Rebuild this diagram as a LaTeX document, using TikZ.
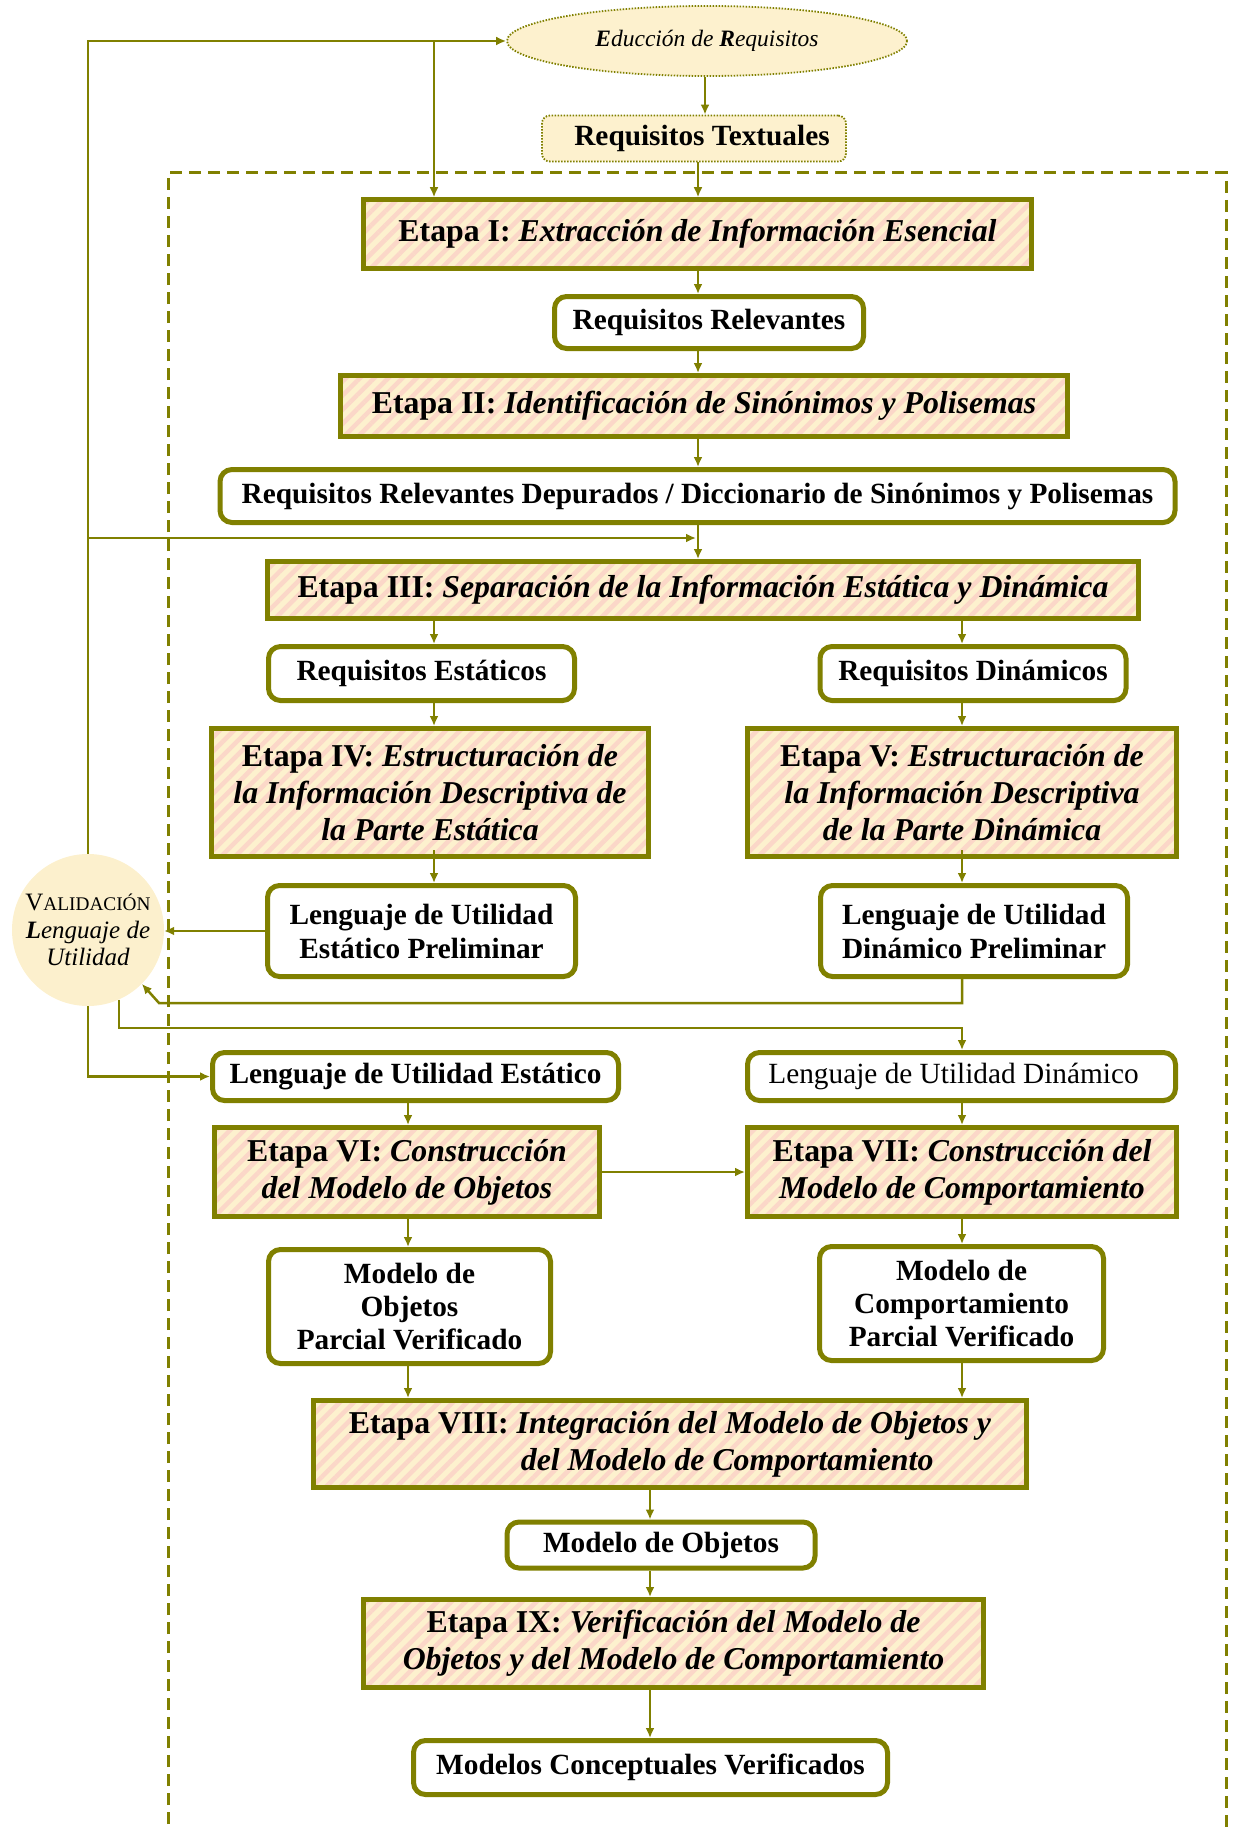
\documentclass[tikz,border=0pt]{standalone}
\usepackage{fontspec}
\setmainfont{Liberation Serif}
\usetikzlibrary{arrows.meta,patterns.meta,shapes.geometric,calc}

\definecolor{ol}{HTML}{808000}
\definecolor{crema}{HTML}{FDF1CE}
\definecolor{raya}{HTML}{FBD7C8}
\definecolor{circ}{HTML}{FCF0CD}

\newcommand\etfont{\fontsize{31.8}{37}\selectfont\bfseries}
\newcommand\bxfont{\fontsize{29.3}{34}\selectfont\bfseries}

\tikzset{
  etapa/.style={draw=ol, line width=5pt, preaction={fill=crema},
    pattern={Lines[angle=45,distance=10pt,line width=4.5pt]}, pattern color=raya,
    align=center, inner sep=0pt, font=\etfont},
  rbox/.style={draw=ol, line width=5pt, rounded corners=12pt, fill=white,
    align=center, inner sep=0pt, font=\bxfont},
  dotbox/.style={draw=ol, line width=1.8pt, dash pattern=on 1.5pt off 1.5pt,
    rounded corners=8pt, fill=crema, align=center, inner sep=0pt, font=\bxfont},
  arr/.style={draw=ol, line width=2.5pt, -{Latex[length=10pt,width=9pt]}},
}

\begin{document}
\begin{tikzpicture}[x=1pt,y=-1pt]
\useasboundingbox (0,0) rectangle (1232,1827);

% dashed frame of the process
\draw[ol, line width=3pt, dash pattern=on 12pt off 7pt]
  (168,1900) -- (168,173) -- (1226,173) -- (1226,1900);

% columns used by the connectors
\coordinate (m) at (698,0);
\coordinate (cL) at (434,0);
\coordinate (cR) at (962,0);
\coordinate (cL2) at (408,0);
\coordinate (cB) at (650,0);

% nodes
\node[ellipse, draw=ol, line width=1.8pt, dash pattern=on 1.5pt off 1.5pt, fill=crema,
  minimum width=400, minimum height=70, inner sep=0pt,
  font=\fontsize{23.5}{28}\selectfont\itshape] (educ) at (707,41)
  {\textbf{E}ducción de \textbf{R}equisitos};
\node[dotbox, minimum width=304, minimum height=46] (rt) at (694,138.5)
  {\hspace*{16pt}Requisitos Textuales};

\node[etapa, minimum width=668, minimum height=69] (e1) at (697.5,234)
  {Etapa I: \textit{Extracción de Información Esencial}};
\node[rbox, minimum width=309, minimum height=52] (rr) at (709,322.5) {Requisitos Relevantes};
\node[etapa, minimum width=727, minimum height=61] (e2) at (704,406)
  {Etapa II: \textit{Identificación de Sinónimos y Polisemas}};
\node[rbox, minimum width=955, minimum height=53] (dep) at (697.5,496)
  {Requisitos Relevantes Depurados / Diccionario de Sinónimos y Polisemas};
\node[etapa, minimum width=871, minimum height=57] (e3) at (703,590)
  {Etapa III: \textit{Separación de la Información Estática y Dinámica}};

\node[rbox, minimum width=306, minimum height=54] (rs) at (421.5,673.5) {Requisitos Estáticos};
\node[rbox, minimum width=306, minimum height=54] (rd) at (973,673.5) {Requisitos Dinámicos};

\node[etapa, minimum width=437, minimum height=128] (e4) at (430,792.5)
  {Etapa IV: \textit{Estructuración de}\\ \textit{la Información Descriptiva de}\\ \textit{la Parte Estática}};
\node[etapa, minimum width=429, minimum height=128] (e5) at (962,792.5)
  {Etapa V: \textit{Estructuración de}\\ \textit{la Información Descriptiva}\\ \textit{de la Parte Dinámica}};

\node[rbox, minimum width=308, minimum height=91] (lsp) at (421.5,931)
  {Lenguaje de Utilidad\\ Estático Preliminar};
\node[rbox, minimum width=307, minimum height=91] (ldp) at (974,931)
  {Lenguaje de Utilidad\\ Dinámico Preliminar};

\node[circle, fill=circ, minimum size=152, inner sep=0pt, align=center,
  font=\fontsize{25}{27.5}\selectfont] (val) at (88,930)
  {V{\fontsize{19.3}{27.5}\selectfont ALIDACIÓN}\\ \textit{\textbf{L}enguaje de}\\ \textit{Utilidad}};

\node[rbox, minimum width=406, minimum height=48] (lsu) at (415.5,1076.5)
  {Lenguaje de Utilidad Estático};
\node[rbox, minimum width=428, minimum height=48, font=\fontsize{29.3}{34}\selectfont] (ldu) at (961.5,1076.5)
  {Lenguaje de Utilidad Dinámico\hspace*{16pt}};

\node[etapa, minimum width=385, minimum height=89] (e6) at (407,1172)
  {Etapa VI: \textit{Construcción}\\ \textit{del Modelo de Objetos}};
\node[etapa, minimum width=429, minimum height=89] (e7) at (962,1172)
  {Etapa VII: \textit{Construcción del}\\ \textit{Modelo de Comportamiento}};

\node[rbox, minimum width=282, minimum height=114, font=\fontsize{29.3}{33}\selectfont\bfseries] (mop) at (409.5,1306.5)
  {Modelo de\\ Objetos\\ Parcial Verificado};
\node[rbox, minimum width=284, minimum height=114, font=\fontsize{29.3}{33}\selectfont\bfseries] (mcp) at (961.5,1303.5)
  {Modelo de\\ Comportamiento\\ Parcial Verificado};

\node[etapa, minimum width=713, minimum height=87, align=left] (e8) at (670,1444)
  {Etapa VIII: \textit{Integración del Modelo de Objetos y}\\ \hspace*{172pt}\textit{del Modelo de Comportamiento}};
\node[rbox, minimum width=308, minimum height=46] (mo) at (661,1545) {Modelo de Objetos};
\node[etapa, minimum width=620, minimum height=88] (e9) at (673.5,1643.5)
  {Etapa IX: \textit{Verificación del Modelo de}\\ \textit{Objetos y del Modelo de Comportamiento}};
\node[rbox, minimum width=474, minimum height=54] (mcv) at (650.5,1767.5)
  {Modelos Conceptuales Verificados};

% waypoints of the feedback connectors
\coordinate (junc) at (696,538);
\coordinate (k1) at (159,1003);
\coordinate (k2) at (962,1028);

% main column
\draw[arr] ([xshift=-2pt]educ.south) -- ([xshift=-2pt]educ.south |- rt.north);
\draw[arr] (rt.south -| m) -- (e1.north -| m);
\draw[arr] (e1.south -| m) -- (rr.north -| m);
\draw[arr] (rr.south -| m) -- (e2.north -| m);
\draw[arr] (e2.south -| m) -- (dep.north -| m);
\draw[arr] (dep.south -| m) -- (e3.north -| m);

% static branch
\draw[arr] (e3.south -| cL) -- (rs.north -| cL);
\draw[arr] (rs.south -| cL) -- (e4.north -| cL);
\draw[arr] ([yshift=9pt]e4.south -| cL) -- (lsp.north -| cL);
\draw[arr] (lsu.south -| cL2) -- (e6.north -| cL2);
\draw[arr] (e6.south -| cL2) -- (mop.north -| cL2);
\draw[arr] (mop.south -| cL2) -- (e8.north -| cL2);

% dynamic branch
\draw[arr] (e3.south -| cR) -- (rd.north -| cR);
\draw[arr] (rd.south -| cR) -- (e5.north -| cR);
\draw[arr] ([yshift=9pt]e5.south -| cR) -- (ldp.north -| cR);
\draw[arr] (ldu.south -| cR) -- (e7.north -| cR);
\draw[arr] (e7.south -| cR) -- (mcp.north -| cR);
\draw[arr] (mcp.south -| cR) -- (e8.north -| cR);

\draw[arr] (e6.east) -- (e6.east -| e7.west);

% final column
\draw[arr] (e8.south -| cB) -- (mo.north -| cB);
\draw[arr] (mo.south -| cB) -- (e9.north -| cB);
\draw[arr] (e9.south -| cB) -- (mcv.north -| cB);

% validation loops
\draw[arr] (val.north) |- (educ.west);
\draw[arr] (educ.west -| cL) -- (e1.north -| cL);
\draw[arr] (val.north |- junc) -- (junc);
\draw[arr] (lsp.west) -- (lsp.west -| val.east);
\draw[arr] (ldp.south -| cR) |- (k1) -- (val.-45);
\draw[arr] (val.-66) |- (k2) -- (ldu.north -| cR);
\draw[arr] (val.south) |- (lsu.west);
\end{tikzpicture}
\end{document}
